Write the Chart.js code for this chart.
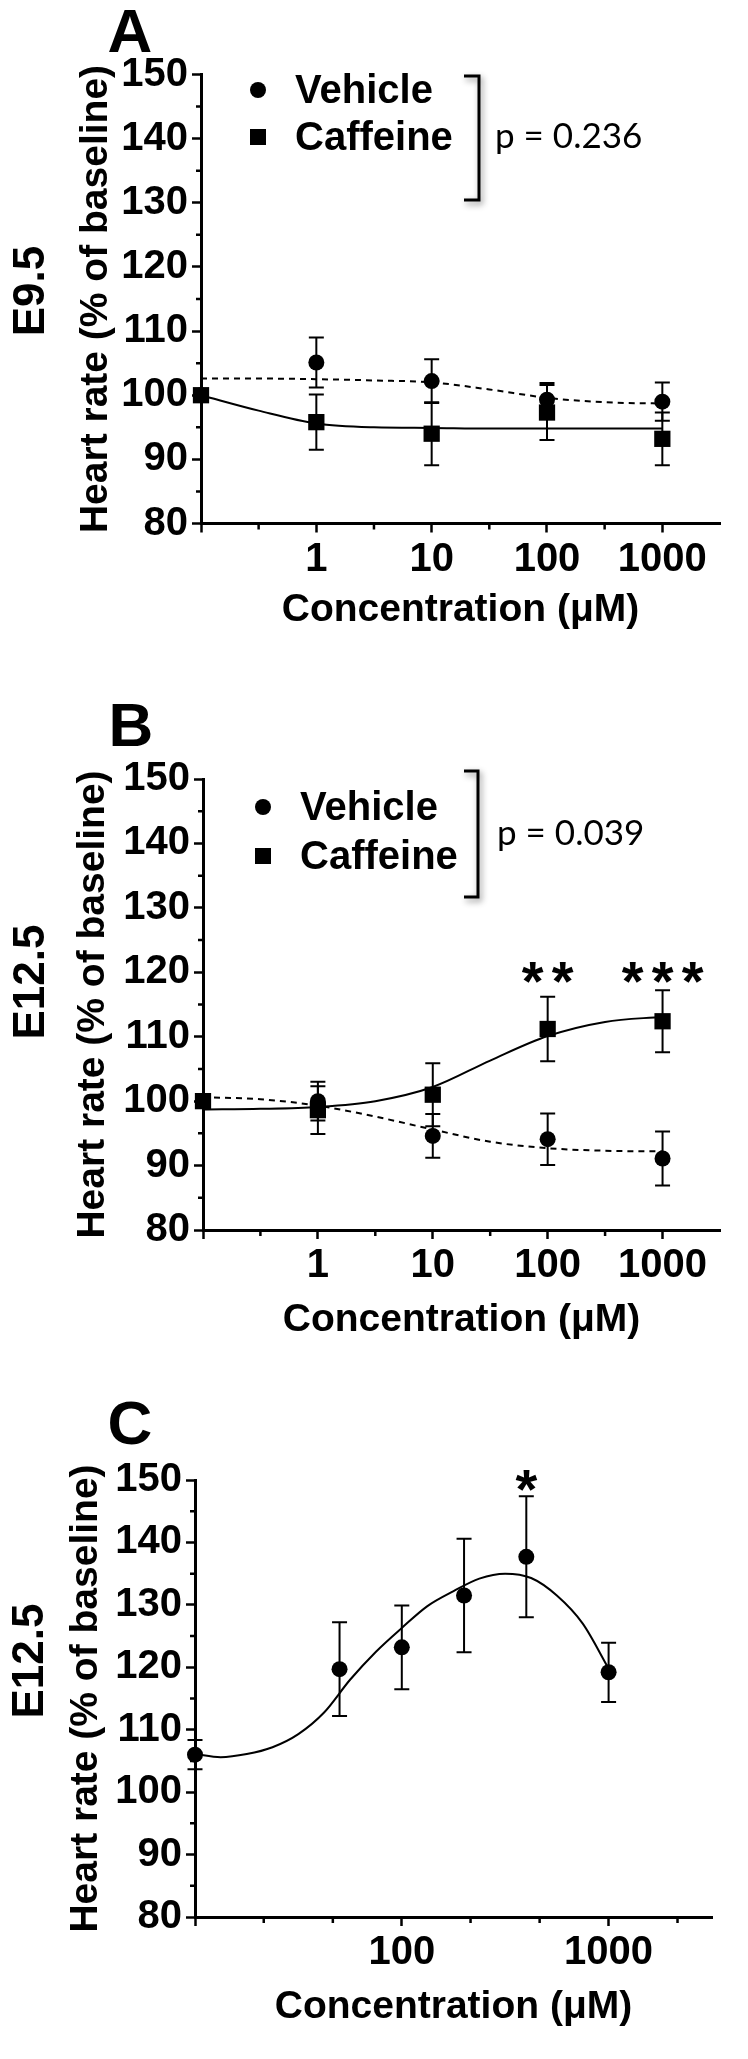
<!DOCTYPE html>
<html><head><meta charset="utf-8">
<script src="https://cdn.jsdelivr.net/npm/chart.js@4/dist/chart.umd.min.js"></script>
<style>
html,body{margin:0;padding:0;background:#fff;}
#wrap{position:relative;width:748px;height:2059px;overflow:hidden;}
canvas{position:absolute;left:0;}
</style></head><body>
<div id="wrap">
<canvas id="cA" width="748" height="686" style="top:0px"></canvas>
<canvas id="cB" width="748" height="686" style="top:686px"></canvas>
<canvas id="cC" width="748" height="687" style="top:1372px"></canvas>
</div>
<script>
// ---------- data ----------
const concAB = [0.1, 1, 10, 100, 1000];           // 0.1 = baseline (axis origin)
const vehicleA = [100, 105.1, 102.2, 99.3, 99.0];
const vehicleASem = [0, 3.9, 3.4, 2.6, 3.0];
const caffeineA = [100, 95.8, 94.0, 97.3, 93.2];
const caffeineASem = [0, 4.3, 4.9, 4.3, 4.1];
const fitXAB = [0.1, 0.316, 1, 3.16, 10, 31.6, 100, 316, 1000];
const fitVehicleA = [102.6, 102.6, 102.5, 102.3, 102.0, 100.9, 99.6, 98.9, 98.7];
const fitCaffeineA = [100.0, 97.6, 95.6, 95.0, 94.9, 94.8, 94.8, 94.8, 94.8];

const vehicleB = [100, 100.0, 94.6, 94.1, 91.1];
const vehicleBSem = [0, 3.0, 3.4, 4.0, 4.2];
const caffeineB = [100, 98.6, 101.0, 111.2, 112.4];
const caffeineBSem = [0, 3.7, 4.9, 5.0, 4.8];
const fitVehicleB = [100.6, 100.3, 99.3, 97.6, 95.6, 93.7, 92.7, 92.3, 92.2];
const fitCaffeineB = [98.7, 98.8, 99.1, 100.0, 102.2, 106.3, 110.1, 112.3, 113.1];

const concC = [10, 50, 100, 200, 400, 1000];
const caffeineC = [106.0, 119.7, 123.2, 131.5, 137.7, 119.2];
const caffeineCSem = [2.35, 7.5, 6.7, 9.1, 9.7, 4.75];
const fitXC = [10, 13.3, 17.8, 23.7, 31.6, 42.2, 56.2, 75, 100, 133, 178, 237, 316, 422, 562, 750, 1000];
const fitC = [106.1, 105.6, 106.1, 107.2, 109.3, 112.8, 118.0, 122.5, 126.3, 129.8, 132.2, 134.2, 135.0, 134.3, 131.5, 127.0, 119.8];

const yTickValues = [80, 90, 100, 110, 120, 130, 140, 150];
const yTickLabels = ['80', '90', '100', '110', '120', '130', '140', '150'];
const yMinorValues = [85, 95, 105, 115, 125, 135, 145];
const xTickValuesAB = [0.1, 1, 10, 100, 1000];
const xTickLabelsAB = ['', '1', '10', '100', '1000'];
const xMinorAB = [0.316, 3.16, 31.6, 316];
const xTickValuesC = [10, 100, 1000];
const xTickLabelsC = ['', '100', '1000'];
const xMinorC = [21.5, 46.4, 215, 464, 2154];

const seriesNames = ['Vehicle', 'Caffeine'];
const pValues = ['p = 0.236', 'p = 0.039'];
const stage = ['E9.5', 'E12.5', 'E12.5'];
const panelLetters = ['A', 'B', 'C'];
const starsB = [{x: 100, y: 120.7, n: 2}, {x: 1000, y: 120.7, n: 3}];
const starsC = [{x: 400, y: 150.7, n: 1}];

// ---------- helpers ----------
const BOLD = "'Liberation Sans', Arial, sans-serif";
Chart.defaults.font.family = BOLD;
Chart.defaults.color = '#000';

const pts = (xs, ys) => xs.map((x, i) => ({x: x, y: ys[i]}));

const decor = {
  id: 'decor',
  beforeDatasetsDraw(chart) {
    const ctx = chart.ctx, xs = chart.scales.x, ys = chart.scales.y;
    ctx.save();
    ctx.strokeStyle = '#000'; ctx.lineWidth = 2;
    chart.data.datasets.forEach(ds => {
      if (!ds.sem) return;
      ds.data.forEach((p, i) => {
        const s = ds.sem[i]; if (!s) return;
        const px = xs.getPixelForValue(p.x);
        const yt = ys.getPixelForValue(p.y + s), yb = ys.getPixelForValue(p.y - s);
        ctx.beginPath();
        ctx.moveTo(px, yt); ctx.lineTo(px, yb);
        ctx.moveTo(px - 7.5, yt); ctx.lineTo(px + 7.5, yt);
        ctx.moveTo(px - 7.5, yb); ctx.lineTo(px + 7.5, yb);
        ctx.stroke();
      });
    });
    ctx.restore();
  },
  afterDraw(chart) {
    const o = chart.options.plugins.decor; if (!o) return;
    const ctx = chart.ctx, xs = chart.scales.x, ys = chart.scales.y, ca = chart.chartArea;
    ctx.save();
    ctx.fillStyle = '#000'; ctx.strokeStyle = '#000';
    // minor ticks
    ctx.lineWidth = 2.5;
    ctx.beginPath();
    o.yMinor.forEach(v => { const py = ys.getPixelForValue(v); ctx.moveTo(ca.left - 5, py); ctx.lineTo(ca.left, py); });
    o.xMinor.forEach(v => { if (v > xs.max) return; const px = xs.getPixelForValue(v); ctx.moveTo(px, ca.bottom); ctx.lineTo(px, ca.bottom + 6); });
    ctx.stroke();
    // panel letter
    ctx.font = 'bold 62px ' + BOLD;
    ctx.textAlign = 'center'; ctx.textBaseline = 'alphabetic';
    ctx.fillText(o.letter.text, o.letter.x, o.letter.y);
    // stage label (rotated)
    ctx.save();
    ctx.translate(o.stage.x, o.stage.y); ctx.rotate(-Math.PI / 2);
    ctx.font = 'bold 44px ' + BOLD; ctx.textAlign = 'center'; ctx.textBaseline = 'middle';
    ctx.fillText(o.stage.text, 0, 0);
    ctx.restore();
    // legend
    if (o.legend) {
      const L = o.legend;
      ctx.font = 'bold 40px ' + BOLD; ctx.textAlign = 'left'; ctx.textBaseline = 'middle';
      L.items.forEach(it => {
        if (it.style === 'circle') { ctx.beginPath(); ctx.arc(L.markerX, it.y, 8, 0, Math.PI * 2); ctx.fill(); }
        else { ctx.fillRect(L.markerX - 8, it.y - 8, 16, 16); }
        ctx.fillText(it.label, L.textX, it.y + 2);
      });
      // bracket with soft shadow
      ctx.save();
      ctx.shadowColor = 'rgba(0,0,0,0.45)'; ctx.shadowBlur = 6; ctx.shadowOffsetX = 2; ctx.shadowOffsetY = 3;
      ctx.lineWidth = 3; ctx.lineJoin = 'miter';
      ctx.beginPath();
      ctx.moveTo(L.bx1, L.by1); ctx.lineTo(L.bx2, L.by1); ctx.lineTo(L.bx2, L.by2); ctx.lineTo(L.bx1, L.by2);
      ctx.stroke();
      ctx.restore();
      ctx.font = "35px Lato, 'Open Sans', sans-serif"; ctx.textAlign = 'left'; ctx.textBaseline = 'middle';
      ctx.fillText(L.p, L.px, L.py);
    }
    // significance stars
    if (o.stars) {
      ctx.font = 'bold 56px ' + BOLD; ctx.textAlign = 'center'; ctx.textBaseline = 'alphabetic';
      o.stars.forEach(s => {
        const cx = xs.getPixelForValue(s.x), cy = ys.getPixelForValue(s.y);
        for (let k = 0; k < s.n; k++) {
          const px = cx + (k - (s.n - 1) / 2) * 30;
          ctx.fillText('*', px, cy + 32);
        }
      });
    }
    ctx.restore();
  }
};

function makePanel(id, geo, datasets, xTicks, xLabels, xMin, decorOpts) {
  const H = document.getElementById(id).height;
  return new Chart(document.getElementById(id), {
    type: 'scatter',
    data: {datasets: datasets},
    options: {
      responsive: false, animation: false, devicePixelRatio: 1, events: [],
      layout: {padding: {left: geo.padLeft, top: geo.top, right: 748 - geo.right, bottom: H - geo.bottom - geo.xh}},
      plugins: {legend: {display: false}, tooltip: {enabled: false}, decor: decorOpts},
      scales: {
        x: {
          type: 'logarithmic', min: xMin, max: 3162.28, offset: false,
          afterBuildTicks: s => { s.ticks = xTicks.map(v => ({value: v})); },
          afterFit: s => { s.height = geo.xh; },
          ticks: {autoSkip: false, maxRotation: 0, minRotation: 0, padding: 3,
                  font: {size: 40, weight: 'bold'}, color: '#000',
                  callback: (v, i) => xLabels[i]},
          grid: {display: true, drawOnChartArea: false, drawTicks: true, tickLength: 9, tickWidth: 2.5, tickColor: '#000'},
          border: {display: true, color: '#000', width: 3},
          title: {display: true, text: 'Concentration (μM)', font: {size: 39, weight: 'bold', lineHeight: 1.2}, color: '#000', padding: {top: 0, bottom: 0}}
        },
        y: {
          type: 'linear', min: 80, max: 150,
          afterBuildTicks: s => { s.ticks = yTickValues.map(v => ({value: v})); },
          afterFit: s => { s.width = geo.left - geo.padLeft; },
          ticks: {autoSkip: false, padding: 4, font: {size: 40, weight: 'bold'}, color: '#000',
                  callback: (v, i) => yTickLabels[i]},
          grid: {display: true, drawOnChartArea: false, drawTicks: true, tickLength: 9, tickWidth: 2.5, tickColor: '#000'},
          border: {display: true, color: '#000', width: 3},
          title: {display: true, text: 'Heart rate (% of baseline)', font: {size: 39, weight: 'bold', lineHeight: 1.2}, color: '#000', padding: {top: 0, bottom: 0}}
        }
      }
    },
    plugins: [decor]
  });
}

function pointSet(label, xs, ys, sem, style) {
  return {label: label, data: pts(xs, ys), sem: sem, showLine: false, order: 0, clip: false,
          pointStyle: style, pointRadius: style === 'rect' ? 11.5 : 8,
          backgroundColor: '#000', borderColor: '#000', borderWidth: 0};
}
function fitSet(xs, ys, dashed) {
  return {data: pts(xs, ys), showLine: true, order: 1, clip: false, pointRadius: 0,
          borderColor: '#000', borderWidth: 2, borderDash: dashed ? [6, 5] : [],
          cubicInterpolationMode: 'monotone', fill: false};
}

// Panel A
makePanel('cA', {padLeft: 73, left: 201, right: 720, top: 74.5, bottom: 523.5, xh: 110},
  [pointSet(seriesNames[0], concAB, vehicleA, vehicleASem, 'circle'),
   pointSet(seriesNames[1], concAB, caffeineA, caffeineASem, 'rect'),
   fitSet(fitXAB, fitVehicleA, true), fitSet(fitXAB, fitCaffeineA, false)],
  xTickValuesAB, xTickLabelsAB, 0.1,
  {yMinor: yMinorValues, xMinor: xMinorAB,
   letter: {text: panelLetters[0], x: 130, y: 52}, stage: {text: stage[0], x: 32, y: 291},
   legend: {markerX: 258, textX: 295, items: [{style: 'circle', label: seriesNames[0], y: 90}, {style: 'rect', label: seriesNames[1], y: 137}],
            bx1: 464, bx2: 479, by1: 76, by2: 200, p: pValues[0], px: 495, py: 137}});

// Panel B
makePanel('cB', {padLeft: 70, left: 203, right: 720, top: 93, bottom: 544, xh: 114},
  [pointSet(seriesNames[0], concAB, vehicleB, vehicleBSem, 'circle'),
   pointSet(seriesNames[1], concAB, caffeineB, caffeineBSem, 'rect'),
   fitSet(fitXAB, fitVehicleB, true), fitSet(fitXAB, fitCaffeineB, false)],
  xTickValuesAB, xTickLabelsAB, 0.1,
  {yMinor: yMinorValues, xMinor: xMinorAB,
   letter: {text: panelLetters[1], x: 131, y: 60}, stage: {text: stage[1], x: 32, y: 296},
   legend: {markerX: 263, textX: 300, items: [{style: 'circle', label: seriesNames[0], y: 121}, {style: 'rect', label: seriesNames[1], y: 170}],
            bx1: 464, bx2: 478, by1: 85, by2: 211, p: pValues[1], px: 497, py: 148},
   stars: starsB});

// Panel C
makePanel('cC', {padLeft: 63, left: 195, right: 712, top: 108, bottom: 545, xh: 114},
  [pointSet('Caffeine', concC, caffeineC, caffeineCSem, 'circle'),
   fitSet(fitXC, fitC, false)],
  xTickValuesC, xTickLabelsC, 10,
  {yMinor: yMinorValues, xMinor: xMinorC,
   letter: {text: panelLetters[2], x: 130, y: 72}, stage: {text: stage[2], x: 31, y: 289},
   stars: starsC});
</script>
</body></html>
